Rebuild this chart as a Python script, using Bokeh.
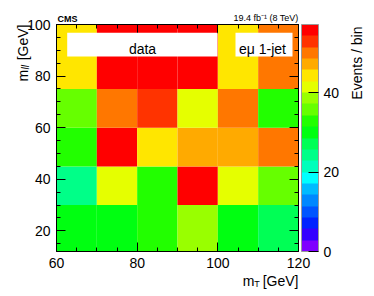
import math
from bokeh.plotting import figure
from bokeh.models import (ColumnDataSource, LinearColorMapper, ColorBar, FixedTicker,
                          SingleIntervalTicker, LinearAxis, Label, BoxAnnotation, Range1d)
from bokeh.transform import transform
from bokeh.embed import file_html
from bokeh.resources import INLINE

# ---- data ----
x_edges = [60, 70, 80, 90, 100, 110, 120]          # mT bins [GeV]
y_edges = [12, 30, 45, 60, 75, 100]                # mll bins [GeV]
# rows from bottom (12-30) to top (75-100), columns 60..120
counts_row1 = [30, 30, 33, 38, 30, 27]
counts_row2 = [24, 41, 33, 56, 41, 36]
counts_row3 = [33, 55, 44, 47, 47, 50]
counts_row4 = [36, 50, 53, 41, 50, 33]
counts_row5 = [44, 55, 55, 55, 44, 50]
counts = [counts_row1, counts_row2, counts_row3, counts_row4, counts_row5]
z_min = 0
z_max = 57.14
cbar_ticks = [0, 20, 40]
palette = ["#7f00ff", "#3300ff", "#0022ff", "#0055ff", "#0088ff", "#00bbff",
           "#00ffff", "#00ffbb", "#00ff88", "#00ff55", "#00ff11", "#22ff00",
           "#66ff00", "#99ff00", "#e5ff00", "#ffe600", "#ffaa00", "#ff7700",
           "#ff3300", "#ff0000"]

left, right, bottom, top, val = [], [], [], [], []
for j, row in enumerate(counts):
    for i, v in enumerate(row):
        left.append(x_edges[i]); right.append(x_edges[i + 1])
        bottom.append(y_edges[j]); top.append(y_edges[j + 1])
        val.append(v)
src = ColumnDataSource(dict(left=left, right=right, bottom=bottom, top=top, v=val))

# ---- layout (pixels) ----
W, H = 374, 296
PX_L, PX_R, PX_T, PX_B = 56, 298, 24, 251
X0, X1 = x_edges[0], x_edges[-1]
Y0, Y1 = y_edges[0], y_edges[-1]
kx = (X1 - X0) / (PX_R - PX_L)
ky = (Y1 - Y0) / (PX_B - PX_T)

def dx(sx):
    return X0 + (sx - PX_L) * kx

def dy(sy):
    return Y1 - (sy - PX_T) * ky

FONT = "Liberation Sans"

p = figure(width=W, height=H, title=None,
           x_range=Range1d(dx(0), dx(W)), y_range=Range1d(dy(H), dy(0)),
           output_backend="svg", toolbar_location=None,
           min_border_left=0, min_border_right=0, min_border_top=0, min_border_bottom=0,
           background_fill_color="white", border_fill_color="white",
           outline_line_color=None)
p.grid.visible = False

mapper = LinearColorMapper(palette=palette, low=z_min, high=z_max)
p.quad(left="left", right="right", bottom="bottom", top="top", source=src,
       fill_color=transform("v", mapper), line_color=None)

def style_axis(ax, fixed, bounds, show_labels=True, standoff=6):
    ax.fixed_location = fixed
    ax.bounds = bounds
    ax.ticker = SingleIntervalTicker(interval=20, num_minor_ticks=4)
    ax.major_tick_in = 9
    ax.major_tick_out = 0
    ax.minor_tick_in = 4
    ax.minor_tick_out = 0
    ax.axis_line_color = "black"
    ax.major_tick_line_color = "black"
    ax.minor_tick_line_color = "black"
    if show_labels:
        ax.major_label_text_font = FONT
        ax.major_label_text_font_size = "14px"
        ax.major_label_text_color = "black"
        ax.major_label_standoff = standoff
    else:
        ax.major_label_text_color = None
        ax.major_label_standoff = 0

style_axis(p.xaxis[0], Y0, (X0, X1), True, 6)
style_axis(p.yaxis[0], X0, (Y0, Y1), True, 6)

top_axis = LinearAxis()
style_axis(top_axis, Y1, (X0, X1), False)
p.add_layout(top_axis, "above")
right_axis = LinearAxis()
style_axis(right_axis, X1, (Y0, Y1), False)
p.add_layout(right_axis, "right")

cb = ColorBar(color_mapper=mapper, ticker=FixedTicker(ticks=cbar_ticks),
              width=17, height=PX_B - PX_T, padding=0, margin=0,
              location=(PX_R + 3, H - PX_B),
              label_standoff=5, major_label_text_font=FONT,
              major_label_text_font_size="14px", major_label_text_color="black",
              major_tick_in=10, major_tick_out=0, major_tick_line_color="black",
              minor_tick_line_color=None, bar_line_color="#999999",
              background_fill_alpha=0, border_line_color=None)
p.add_layout(cb, "center")

# legend boxes
p.add_layout(BoxAnnotation(left=dx(66.7), right=dx(217), top=dy(32.3), bottom=dy(56),
                           fill_color="white", fill_alpha=1, line_color=None))
p.add_layout(BoxAnnotation(left=dx(235), right=dx(292), top=dy(32.3), bottom=dy(56),
                           fill_color="white", fill_alpha=1, line_color=None))

def lab(sx, sy, text, size, align="left", angle=0.0, style="normal"):
    p.add_layout(Label(x=dx(sx), y=dy(sy), text=text, text_font=FONT, text_font_size=size,
                       text_align=align, text_baseline="alphabetic", angle=angle,
                       text_font_style=style, text_color="black"))

lab(142, 48, "data", "14px", "center")
lab(262, 48, "eμ 1-jet", "14px", "center")

# header
lab(57, 18.5, "CMS", "9px", "left", style="bold")
lab(298, 17.5, "19.4 fb⁻¹ (8 TeV)", "9px", "right")

# x axis title: m_T [GeV]
lab(298, 280.5, "[GeV]", "14px", "right")
lab(259.3, 283, "T", "9px", "right")
lab(253.8, 280.5, "m", "14px", "right")

# y axis title: m_ll [GeV] (rotated)
up = math.pi / 2
lab(22, 24, "[GeV]", "14px", "right", angle=up)
lab(24.5, 64.5, "ll", "10px", "right", angle=up, style="italic")
lab(22, 69.4, "m", "14px", "right", angle=up)

# colorbar title
lab(356.5, 26, "Events / bin", "14px", "right", angle=up)

open("out.html", "w").write(file_html(p, INLINE))
